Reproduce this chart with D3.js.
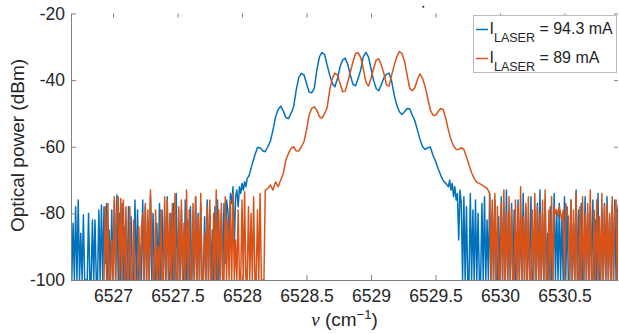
<!DOCTYPE html>
<html>
<head>
<meta charset="utf-8">
<script src="https://cdn.jsdelivr.net/npm/d3@7"></script>
<style>
  body { margin: 0; background: #fff; }
  svg { display: block; font-family: "Liberation Sans", Arial, sans-serif; }
</style>
</head>
<body>
<svg id="chart" width="619" height="334"></svg>
<script>
// optical power in dBm, -100 = under the noise floor
// each piece is sampled from its start wavenumber with a fixed step

// I_LASER = 94.3 mA
const blueNoiseLeft = [ // from 6526.68, step 0.01
  -100, -83, -100, -78, -100, -76, -100, -86, -100, -80.5,
  -100, -100, -100, -80, -100, -100, -82, -100, -82, -100,
  -100, -79, -100, -77.5, -100, -78, -95, -77, -100, -85,
  -100, -79, -100, -76, -100, -74.5, -100, -80, -100, -77,
  -100, -84, -100, -100, -78, -100, -81, -100, -100, -76,
  -100, -79, -100, -90, -100, -76, -100, -78, -100, -82,
  -100, -75, -100, -80, -100, -100, -83, -100, -77, -100,
  -79, -100, -81, -100, -75, -100, -100, -80, -100, -77,
  -100, -74, -100, -83, -100, -79, -100, -100, -76, -100,
  -82, -100, -78, -100, -88, -100, -75, -100, -80, -100,
  -77, -100, -100, -81, -100, -76, -100, -79, -100, -85,
  -100, -78, -100, -76, -100, -92, -80, -100, -77, -95,
  -76, -79, -88, -74, -77, -72, -90, -75, -73, -78,
  -72, -74, -71, -73, -70.5, -72, -69.5, -69, -68, -66.5
]
const bluePeak = [ // from 6528.08, step 0.02
  -65, -62.5, -60.2, -60.3, -61.2, -61.5, -60, -58.3, -55, -51,
  -48.8, -47.8, -49.3, -51.2, -51.6, -50, -48, -43, -39.2, -38,
  -38.4, -41, -43.6, -43.8, -42.5, -37, -33, -31.7, -32.3, -35.5,
  -38.5, -41, -42, -39.5, -36, -34, -33.4, -35.3, -38.5, -41.3,
  -41.7, -39.5, -37, -33, -31.7, -33, -36.5, -40, -42.5, -43.2,
  -41.3, -39.3, -38.2, -37.9, -40.3, -44.5, -47.5, -49.5, -50.3, -49.5,
  -48.5, -48.6, -50.5, -52.2, -55, -57.8, -60, -60.8, -60.3, -60.1,
  -62.5, -64.3, -66.5, -68.5, -70.2, -71, -72
]
const blueNoiseRight = [ // from 6529.61, step 0.01
  -70, -73, -71, -75, -72, -76, -74, -88, -73, -77,
  -100, -75, -100, -78, -100, -100, -74, -100, -79, -100,
  -76, -100, -80, -100, -100, -77, -100, -75, -100, -82,
  -100, -74, -100, -79, -100, -76, -100, -100, -81, -100,
  -75, -100, -78, -100, -73, -100, -84, -100, -77, -100,
  -79, -100, -100, -76, -100, -80, -100, -74, -100, -78,
  -100, -82, -100, -75, -100, -100, -79, -100, -77, -100,
  -73, -100, -80, -100, -76, -100, -86, -100, -78, -100,
  -100, -74, -100, -79, -100, -77, -100, -81, -100, -75,
  -100, -78, -100, -100, -76, -100, -83, -100, -73, -100,
  -79, -100, -77, -100, -100, -75, -100, -80, -100, -78,
  -100, -76, -100, -82, -100, -74, -100, -100, -79, -100,
  -77, -100, -75, -100, -81, -100, -78, -100, -76, -100,
  -80, -77
]

// I_LASER = 89 mA
const orangeNoiseLeft = [ // from 6526.93, step 0.01
  -100, -78, -100, -77, -100, -100, -88, -100, -75, -100,
  -79, -75, -100, -75.5, -100, -76, -100, -78, -100, -100,
  -78, -100, -100, -82, -100, -100, -100, -84, -100, -84,
  -80, -100, -77, -100, -79, -100, -73, -88, -100, -100,
  -79, -100, -90, -100, -79, -100, -100, -75, -100, -76,
  -100, -80, -100, -77, -100, -74, -100, -100, -78, -100,
  -76, -100, -83, -100, -73, -100, -79, -100, -100, -77,
  -100, -75, -100, -81, -100, -74, -100, -100, -86, -100,
  -78, -100, -76, -100, -100, -80, -100, -73, -100, -79,
  -100, -77, -100, -100, -75, -100, -82, -100, -76, -100,
  -74, -100, -88, -100, -79, -100, -100, -76, -100, -73.5,
  -100, -100, -78, -100, -80, -100, -75, -100, -100, -79,
  -100, -74, -100, -100, -100
]
const orangePeak = [ // from 6528.18, step 0.02
  -73, -72.5, -71.5, -73, -70.5,
  -72, -70, -68, -64, -62, -60.5, -60, -61.2, -61.3, -60,
  -58.5, -55, -50.5, -48.5, -48, -49, -51, -51.4, -50, -48.3,
  -43, -39.5, -37.9, -38.5, -41, -43.5, -43.3, -40.5, -37.5, -34.5,
  -32, -31.8, -33.2, -36.5, -40.5, -41.8, -39.5, -36.5, -34, -33.6,
  -35.5, -38, -41.5, -41.8, -38.5, -35.5, -33, -31.4, -32, -34.3,
  -38.5, -42.5, -43.2, -42.3, -39.8, -38.1, -39.5, -42, -45.5, -49,
  -50.5, -50.6, -49.5, -48.5, -48.8, -51.5, -55, -57.8, -59.8, -60.8,
  -60.8, -60.3, -60.8, -63, -65.5, -67.8, -69.5, -70.7, -71, -71.5,
  -72, -72.5, -74
]
const orangeNoiseRight = [ // from 6529.93, step 0.01
  -100, -76, -100, -74, -100, -78, -100, -100, -77, -100,
  -73, -100, -80, -100, -75, -100, -79, -100, -100, -76,
  -100, -78, -100, -72, -100, -81, -100, -77, -100, -75,
  -100, -100, -79, -100, -74, -100, -78, -100, -80, -100,
  -76, -100, -73, -100, -100, -79, -100, -75, -100, -78,
  -80, -79, -81, -78, -80, -82, -79, -100, -77, -80,
  -81, -100, -76, -100, -79, -100, -74, -100, -100, -78,
  -100, -75, -100, -80, -100, -77, -100, -73, -100, -100,
  -79, -100, -76, -100, -81, -100, -74, -100, -78, -100,
  -77, -100, -80, -100, -75, -100, -79, -76, -100, -78
]

const blueSegments = [
  { start: 6526.68, step: 0.01, values: blueNoiseLeft },
  { start: 6528.08, step: 0.02, values: bluePeak },
  { start: 6529.61, step: 0.01, values: blueNoiseRight }
]
const orangeSegments = [
  { start: 6526.93, step: 0.01, values: orangeNoiseLeft },
  { start: 6528.18, step: 0.02, values: orangePeak },
  { start: 6529.93, step: 0.01, values: orangeNoiseRight }
]

const seriesCurrents = ['94.3', '89']
const seriesColors = ['#0072BD', '#D95319']
const xTicks = [6527, 6527.5, 6528, 6528.5, 6529, 6529.5, 6530, 6530.5]
const yTicks = [-100, -80, -60, -40, -20]
const xDomain = [6526.674, 6530.915]
const yDomain = [-100, -20]

const plotLeft = 71, plotRight = 618, plotTop = 13.5, plotBottom = 280
const axisGray = '#808080'
const textColor = '#262626'

const svg = d3.select('#chart')

const x = d3.scaleLinear().domain(xDomain).range([plotLeft, plotRight])
const y = d3.scaleLinear().domain(yDomain).range([plotBottom, plotTop])

svg.append('defs').append('clipPath').attr('id', 'plot-clip')
  .append('rect')
  .attr('x', plotLeft).attr('y', plotTop)
  .attr('width', plotRight - plotLeft).attr('height', plotBottom - plotTop + 0.75)

const toPoints = segs => segs.flatMap(s =>
  s.values.map((v, i) => ({ nu: s.start + i * s.step, v: v })))

const series = [
  { color: seriesColors[0], points: toPoints(blueSegments) },
  { color: seriesColors[1], points: toPoints(orangeSegments) }
]

const line = d3.line()
  .x(d => x(d.nu))
  .y(d => y(d.v))

svg.append('g').attr('clip-path', 'url(#plot-clip)')
  .selectAll('path')
  .data(series)
  .enter().append('path')
  .attr('d', d => line(d.points))
  .attr('fill', 'none')
  .attr('stroke', d => d.color)
  .attr('stroke-width', 1.5)
  .attr('stroke-linejoin', 'round')

// axes, ticks pointing inward like matlab
const xAxis = d3.axisBottom(x).tickValues(xTicks).tickFormat(d => String(d))
  .tickSizeInner(-5).tickSizeOuter(0).tickPadding(9.5)
const yAxis = d3.axisLeft(y).tickValues(yTicks).tickFormat(d => String(d))
  .tickSizeInner(-5).tickSizeOuter(0).tickPadding(6)

svg.append('g').attr('transform', `translate(0,${plotBottom})`).call(xAxis)
svg.append('g').attr('transform', `translate(${plotLeft},0)`).call(yAxis)

svg.append('g').attr('transform', `translate(0,${plotTop})`)
  .call(d3.axisTop(x).tickValues(xTicks).tickFormat('').tickSizeInner(-4).tickSizeOuter(0))
  .call(g => g.select('.domain').remove())
svg.append('g').attr('transform', `translate(${plotRight},0)`)
  .call(d3.axisRight(y).tickValues(yTicks).tickFormat('').tickSizeInner(-4).tickSizeOuter(0))
  .call(g => g.select('.domain').remove())

svg.selectAll('.domain').attr('stroke', axisGray)
svg.selectAll('.tick line').attr('stroke', axisGray)
svg.selectAll('.tick text')
  .attr('fill', textColor)
  .style('font-size', '17.5px')
  .style('font-family', '"Liberation Sans", Arial, sans-serif')

// axis labels
svg.append('text')
  .attr('transform', 'translate(24,145.5) rotate(-90)')
  .attr('text-anchor', 'middle')
  .attr('fill', textColor)
  .style('font-size', '19px')
  .text('Optical power (dBm)')

const xl = svg.append('text')
  .attr('x', (plotLeft + plotRight) / 2).attr('y', 325.5)
  .attr('text-anchor', 'middle')
  .attr('fill', textColor)
  .style('font-size', '19px')
xl.append('tspan')
  .style('font-family', '"Liberation Serif", "DejaVu Serif", serif')
  .style('font-style', 'italic')
  .text('ν')
xl.append('tspan').text(' (cm')
xl.append('tspan').attr('dy', -7).style('font-size', '13px').text('−1')
xl.append('tspan').attr('dy', 7).text(')')

// stray dot above the plot
svg.append('circle').attr('cx', 423.3).attr('cy', 6.7).attr('r', 1).attr('fill', '#222')

// legend
const legend = svg.append('g')
legend.append('rect')
  .attr('x', 473.5).attr('y', 15.5)
  .attr('width', 143).attr('height', 57)
  .attr('fill', '#fff')
  .attr('stroke', '#bdbdbd')
  .attr('stroke-width', 1)

const rows = legend.selectAll('g.row')
  .data(seriesCurrents)
  .enter().append('g')
  .attr('class', 'row')
  .attr('transform', (d, i) => `translate(0,${29.5 + i * 29})`)

rows.append('line')
  .attr('x1', 476).attr('x2', 488)
  .attr('y1', 0).attr('y2', 0)
  .attr('stroke', (d, i) => seriesColors[i])
  .attr('stroke-width', 1.5)

const lt = rows.append('text')
  .attr('x', 489.5).attr('y', 4.5)
  .attr('fill', textColor)
  .style('font-size', '16px')
lt.append('tspan').text('I')
lt.append('tspan').attr('dy', 7.5).style('font-size', '12.5px').text('LASER')
lt.append('tspan').attr('dy', -7.5).text(d => ` = ${d} mA`)
</script>
</body>
</html>
